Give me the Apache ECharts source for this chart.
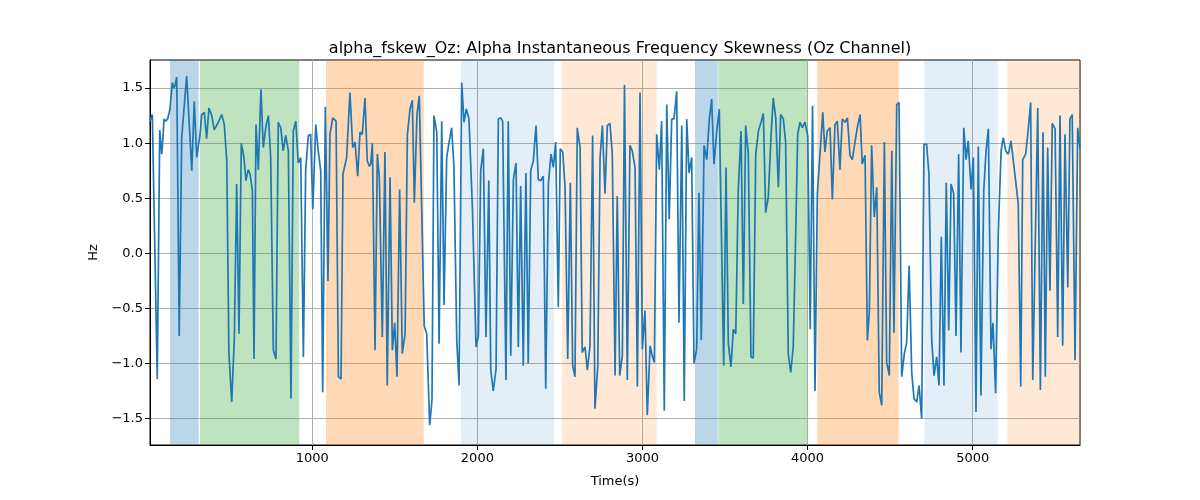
<!DOCTYPE html>
<html>
<head>
<meta charset="utf-8">
<script src="https://cdn.jsdelivr.net/npm/echarts@6/dist/echarts.min.js"></script>
<style>html,body{margin:0;padding:0;background:#fff;}#c{width:1200px;height:500px;}</style>
</head>
<body>
<div id="c"></div>
<script>
const times = [17,31,61,76,88,94,102,112,124,138,152,162,168,179,194,209,239,270,285,300,320,330,346,360,374,391,406,431,451,467,482,495,512,528,542,556,570,586,598,612,623,637,647,659,673,689,703,720,734,748,764,780,794,809,824,839,855,871,885,900,915,930,946,960,976,990,1003,1021,1036,1051,1063,1079,1095,1107,1124,1144,1158,1174,1186,1208,1228,1245,1259,1275,1289,1303,1319,1333,1345,1354,1364,1380,1394,1406,1424,1440,1454,1471,1485,1499,1513,1529,1545,1562,1576,1592,1606,1618,1634,1648,1678,1693,1711,1725,1737,1754,1768,1784,1798,1814,1830,1844,1858,1875,1889,1905,1919,1933,1949,1970,1992,2006,2020,2036,2052,2069,2081,2096,2113,2127,2141,2153,2173,2187,2202,2218,2234,2248,2262,2278,2294,2308,2323,2339,2355,2369,2384,2399,2414,2430,2446,2460,2474,2490,2502,2517,2531,2547,2563,2577,2591,2605,2622,2635,2652,2666,2682,2698,2712,2729,2743,2757,2773,2787,2803,2817,2834,2847,2862,2878,2891,2908,2924,2938,2955,2969,2985,2999,3015,3029,3046,3059,3072,3086,3102,3116,3132,3147,3162,3177,3191,3207,3221,3238,3253,3268,3282,3298,3312,3328,3342,3356,3373,3389,3405,3419,3433,3450,3465,3476,3492,3506,3520,3536,3550,3565,3580,3597,3611,3625,3641,3657,3671,3686,3702,3718,3732,3746,3762,3778,3792,3807,3823,3837,3853,3867,3883,3898,3913,3927,3940,3954,3968,3984,4001,4016,4030,4045,4059,4075,4092,4105,4119,4136,4150,4166,4180,4196,4210,4227,4241,4257,4271,4287,4301,4318,4331,4348,4362,4374,4388,4404,4419,4434,4449,4465,4479,4495,4510,4523,4540,4554,4570,4586,4600,4615,4631,4645,4661,4675,4691,4705,4721,4735,4752,4766,4782,4796,4810,4826,4840,4855,4869,4885,4899,4915,4929,4946,4960,4973,4990,5004,5020,5034,5050,5067,5081,5095,5111,5123,5139,5155,5172,5185,5200,5216,5232,5253,5276,5291,5303,5321,5335,5351,5364,5394,5410,5426,5440,5454,5468,5482,5499,5515,5529,5545,5559,5576,5589,5603,5620,5636,5650];
const skewValues = [1.20,1.26,-1.14,1.12,0.90,1.02,1.22,1.20,1.22,1.31,1.55,1.50,1.52,1.60,-0.75,1.05,1.61,0.75,1.38,0.87,1.08,1.26,1.28,1.04,1.32,1.25,1.12,1.19,1.26,1.17,0.84,-0.91,-1.35,-0.76,0.63,-0.73,1.00,0.87,0.66,0.76,0.72,0.57,-0.96,1.17,0.76,1.49,0.96,1.16,1.25,0.87,-0.88,-0.96,1.19,1.14,0.93,1.07,0.93,-1.32,1.11,1.20,0.82,0.87,-0.94,0.76,1.07,1.08,0.40,1.17,0.93,0.75,-1.26,1.33,-0.25,1.08,1.23,1.20,-1.12,-1.14,0.72,0.87,1.46,0.96,1.01,0.70,1.10,1.08,1.41,0.84,0.79,0.81,1.00,-0.88,0.90,0.69,-0.76,0.92,-1.20,0.69,-0.88,-0.63,-1.12,0.58,-0.91,-0.73,1.08,1.31,1.39,0.46,1.26,1.43,-0.66,-0.73,-1.56,-1.33,1.25,1.10,-0.82,1.20,-0.47,0.87,1.02,1.14,0.78,-0.79,-1.20,1.55,1.19,1.31,1.22,0.40,-0.85,-0.75,0.75,0.95,-0.76,0.66,-1.06,-1.25,-1.05,1.22,1.23,1.20,-1.15,1.20,-0.93,0.67,0.82,-0.85,0.61,-1.02,0.73,-1.00,0.75,0.84,1.16,0.67,0.66,0.70,-1.23,0.63,0.90,0.78,1.01,-0.49,0.95,0.92,0.60,-0.96,0.64,-1.02,-1.12,1.14,0.96,-0.90,-0.85,-1.06,-0.84,1.07,-1.41,-1.03,0.87,1.16,0.54,1.16,1.18,0.90,-1.11,0.52,-1.11,-0.93,1.53,-1.15,0.98,0.93,0.78,-1.21,1.46,-0.87,-0.52,-1.47,-0.84,-0.93,-0.99,1.08,0.76,1.20,-1.43,1.35,0.31,1.22,1.22,1.47,-0.63,1.16,-1.34,1.22,0.73,0.87,-1.00,-0.87,0.55,-0.79,0.98,0.85,1.22,1.40,0.81,1.11,1.31,1.32,-1.02,0.78,-0.82,-1.03,-0.69,-0.73,0.57,1.11,-0.46,1.16,0.90,-0.94,-0.95,0.90,1.11,1.19,1.27,0.37,0.51,1.05,1.41,1.23,0.60,1.26,1.22,1.01,-0.91,-1.08,-0.85,0.10,1.08,1.19,1.14,1.19,1.07,-0.69,1.34,-1.25,0.54,0.90,1.28,0.92,1.11,1.14,0.49,1.17,1.20,0.76,1.22,1.19,1.23,0.89,0.85,1.01,1.14,1.26,0.81,0.89,-0.79,-0.53,0.98,0.33,0.60,-1.26,-1.38,1.01,-0.99,-1.11,0.93,-0.72,1.35,1.37,-1.12,-0.91,-0.81,-0.11,-1.09,-1.32,-1.35,-1.20,-1.50,0.99,0.99,0.72,-0.79,-1.11,-0.94,-1.20,0.15,-1.20,0.64,-0.70,0.63,0.54,-0.75,0.90,-0.90,1.14,0.85,1.02,0.58,0.87,-1.44,0.97,-1.29,0.57,0.93,1.13,-0.87,-0.63,-1.27,0.18,0.93,1.05,0.93,0.90,1.02,0.75,0.45,-1.21,0.85,0.90,1.10,1.37,-1.15,1.32,-1.24,1.10,-1.12,0.96,-0.34,1.18,1.13,-0.76,1.25,-0.84,1.08,-0.31,1.22,1.26,-0.97,1.14,0.95];
const bandStarts = [138,320,1083,1901,2511,3318,3459,4059,4707,5210];
const bandEnds   = [312,921,1675,2464,3086,3456,3998,4552,5151,5650];
const bandKinds  = ['blue','green','orange','lightblue','lightorange','blue','green','orange','lightblue','lightorange'];
const xTicks = [1000,2000,3000,4000,5000];
const yTicks = [-1.5,-1.0,-0.5,0.0,0.5,1.0,1.5];

const kindColor = {
  blue: 'rgba(31,119,180,0.3)',
  green: 'rgba(44,160,44,0.3)',
  orange: 'rgba(255,127,14,0.3)',
  lightblue: 'rgba(31,119,180,0.12)',
  lightorange: 'rgba(255,127,14,0.17)'
};

const lineData = times.map((t, i) => [t, skewValues[i]]);
const areas = bandStarts.map((s, i) => [
  {xAxis: s, itemStyle: {color: kindColor[bandKinds[i]]}},
  {xAxis: bandEnds[i]}
]);

const chart = echarts.init(document.getElementById('c'), null, {renderer: 'canvas'});
const font = 'DejaVu Sans';
chart.setOption({
  animation: false,
  title: {
    text: 'alpha_fskew_Oz: Alpha Instantaneous Frequency Skewness (Oz Channel)',
    left: 615, top: 36, textAlign: 'center',
    textStyle: {fontFamily: font, fontSize: 16, fontWeight: 'normal', color: '#000'}
  },
  grid: {left: 150, right: 120, top: 60, bottom: 55, show: true, borderColor: '#000', borderWidth: 1, backgroundColor: 'transparent'},
  xAxis: {
    type: 'value', min: 17, max: 5650,
    name: 'Time(s)', nameLocation: 'middle', nameGap: 30,
    nameTextStyle: {fontFamily: font, fontSize: 13, color: '#000'},
    axisLine: {show: true, onZero: false, lineStyle: {color: '#000', width: 1}},
    axisTick: {show: true, length: 5, lineStyle: {color: '#000'}, customValues: xTicks},
    axisLabel: {fontFamily: font, fontSize: 13, color: '#000', margin: 7, customValues: xTicks,
      formatter: v => String(Math.round(v))},
    splitLine: {show: true, lineStyle: {color: '#b0b0b0', width: 1}}
  },
  yAxis: {
    type: 'value', min: -1.74, max: 1.755,
    name: 'Hz', nameLocation: 'middle', nameGap: 48,
    nameTextStyle: {fontFamily: font, fontSize: 13, color: '#000'},
    axisLine: {show: true, onZero: false, lineStyle: {color: '#000', width: 1}},
    axisTick: {show: true, length: 5, lineStyle: {color: '#000'}, customValues: yTicks},
    axisLabel: {fontFamily: font, fontSize: 13, color: '#000', margin: 7, customValues: yTicks,
      formatter: v => v.toFixed(1).replace('-', '\u2212')},
    splitLine: {show: true, lineStyle: {color: '#b0b0b0', width: 1}}
  },
  series: [{
    type: 'line', data: lineData, showSymbol: false, symbol: 'none',
    lineStyle: {color: '#1f77b4', width: 1.7}, z: 3,
    markArea: {silent: true, data: areas, itemStyle: {borderWidth: 0}}
  }]
});
</script>
</body>
</html>
